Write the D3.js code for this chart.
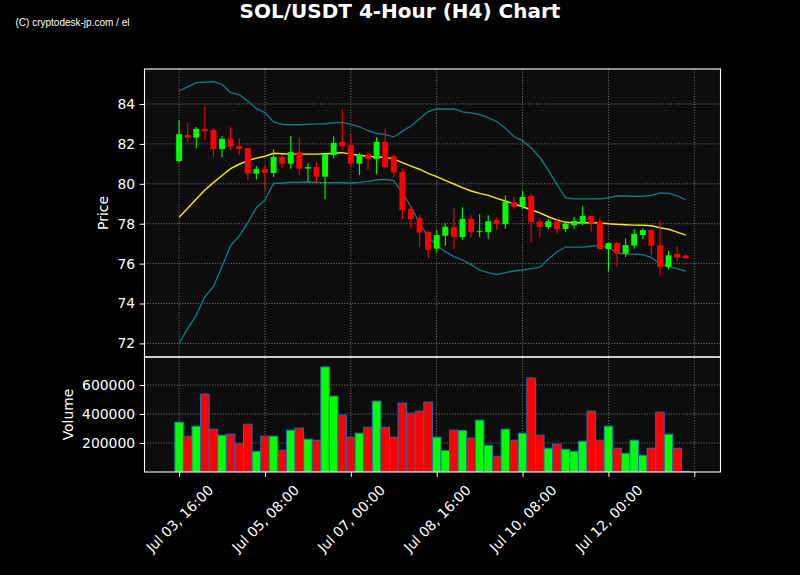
<!DOCTYPE html>
<html><head><meta charset="utf-8">
<script src="https://cdn.jsdelivr.net/npm/d3@7"></script>
<style>body{margin:0;background:#000;} svg{display:block}</style>
</head><body>
<svg id="c" width="800" height="575"></svg>
<script>
// ---------------- DATA ----------------
const dates = [
"2025-07-03T16:00","2025-07-03T20:00",
"2025-07-04T00:00","2025-07-04T04:00","2025-07-04T08:00","2025-07-04T12:00","2025-07-04T16:00","2025-07-04T20:00",
"2025-07-05T00:00","2025-07-05T04:00","2025-07-05T08:00","2025-07-05T12:00","2025-07-05T16:00","2025-07-05T20:00",
"2025-07-06T00:00","2025-07-06T04:00","2025-07-06T08:00","2025-07-06T12:00","2025-07-06T16:00","2025-07-06T20:00",
"2025-07-07T00:00","2025-07-07T04:00","2025-07-07T08:00","2025-07-07T12:00","2025-07-07T16:00","2025-07-07T20:00",
"2025-07-08T00:00","2025-07-08T04:00","2025-07-08T08:00","2025-07-08T12:00","2025-07-08T16:00","2025-07-08T20:00",
"2025-07-09T00:00","2025-07-09T04:00","2025-07-09T08:00","2025-07-09T12:00","2025-07-09T16:00","2025-07-09T20:00",
"2025-07-10T00:00","2025-07-10T04:00","2025-07-10T08:00","2025-07-10T12:00","2025-07-10T16:00","2025-07-10T20:00",
"2025-07-11T00:00","2025-07-11T04:00","2025-07-11T08:00","2025-07-11T12:00","2025-07-11T16:00","2025-07-11T20:00",
"2025-07-12T00:00","2025-07-12T04:00","2025-07-12T08:00","2025-07-12T12:00","2025-07-12T16:00","2025-07-12T20:00",
"2025-07-13T00:00","2025-07-13T04:00","2025-07-13T08:00","2025-07-13T12:00"
];
const open = [81.14,82.45,82.31,82.75,82.70,81.74,82.25,81.89,81.79,80.51,
80.74,80.54,81.34,81.01,81.59,80.76,80.84,80.36,81.44,82.10,
81.94,81.01,81.48,81.24,82.10,81.38,80.59,78.74,78.29,77.58,
76.75,77.40,77.83,77.33,78.24,77.58,77.58,78.19,77.98,79.07,
78.88,79.39,78.12,77.83,78.12,77.73,77.92,78.02,78.39,78.12,
76.73,77.03,76.50,76.90,77.43,77.68,76.92,75.83,76.49,76.41];
const high = [83.17,83.03,82.85,83.93,82.78,82.40,82.83,82.28,81.80,80.89,
80.93,81.73,81.44,82.41,82.33,81.03,81.08,81.50,82.38,83.73,
82.50,81.56,81.58,82.33,82.78,81.48,80.76,78.90,78.45,77.65,
77.68,78.02,78.77,78.82,78.42,78.49,78.42,78.32,79.42,79.36,
79.66,79.52,78.27,78.24,78.19,78.12,78.34,78.87,78.40,78.32,
77.04,77.08,77.27,77.72,77.77,77.72,78.15,76.65,76.85,76.44];
const low = [81.06,82.11,81.78,82.20,81.36,81.33,81.69,81.44,80.16,80.22,
79.66,80.36,80.78,80.76,80.44,80.11,80.02,79.22,81.28,81.69,
80.83,80.44,80.73,80.49,80.78,80.32,78.22,77.77,76.85,76.27,
76.56,76.90,76.72,77.20,77.32,77.32,77.25,77.70,77.75,78.72,
78.74,77.07,77.32,77.72,77.48,77.57,77.72,77.92,77.60,76.72,
75.60,75.84,76.33,76.75,77.22,76.45,75.40,75.71,76.11,76.24];
const close = [82.49,82.31,82.75,82.65,81.74,82.25,81.86,81.74,80.51,80.74,
80.56,81.34,81.01,81.59,80.76,80.84,80.36,81.49,82.05,81.89,
81.01,81.44,81.24,82.10,80.83,80.56,78.70,78.24,77.55,76.69,
77.43,77.85,77.33,78.24,77.58,77.63,78.12,78.00,79.10,78.84,
79.34,78.08,77.83,78.12,77.73,78.00,78.14,78.39,78.02,76.73,
77.03,76.50,76.93,77.49,77.68,76.90,75.83,76.42,76.30,76.26];
const volume = [343700,246800,316000,537500,295300,253700,260700,193800,329900,143000,
246800,246800,150000,288400,302200,226100,219100,724300,523600,392200,
239900,267600,309100,489000,309100,239900,475200,406000,419800,482100,
239900,147600,288400,286000,233000,357600,184500,108400,295300,219100,
267600,648200,253700,163800,191500,156900,143000,212200,419800,219100,
316000,163800,129200,219100,115300,163800,412900,260700,163800,5000];
const bbMiddle = [78.32,78.78,79.24,79.69,80.06,80.42,80.76,80.98,81.16,81.29,
81.38,81.53,81.51,81.49,81.49,81.49,81.49,81.51,81.53,81.56,
81.49,81.43,81.38,81.34,81.33,81.24,81.06,80.89,80.73,80.52,
80.36,80.17,79.99,79.81,79.64,79.52,79.42,79.27,79.14,78.99,
78.85,78.70,78.54,78.35,78.19,78.07,78.05,78.05,78.05,78.04,
78.00,77.97,77.95,77.93,77.92,77.90,77.80,77.72,77.58,77.43];
const bbUpper = [84.65,84.86,85.07,85.10,85.12,84.99,84.57,84.47,84.15,83.77,
83.57,83.10,82.98,82.96,82.96,82.98,83.00,83.01,83.05,83.08,
82.98,82.86,82.66,82.53,82.46,82.35,82.63,82.90,83.26,83.62,
83.75,83.75,83.75,83.60,83.55,83.47,83.31,83.11,82.78,82.36,
82.15,81.81,81.33,80.69,79.97,79.30,79.24,79.24,79.24,79.25,
79.30,79.39,79.39,79.37,79.37,79.42,79.54,79.52,79.39,79.20];
const bbLower = [72.00,72.74,73.42,74.34,74.84,75.85,76.90,77.38,78.05,78.80,
79.19,80.02,80.04,80.07,80.07,80.09,80.07,80.06,80.06,80.06,
80.04,80.07,80.12,80.19,80.22,80.16,79.56,78.85,78.02,77.35,
76.92,76.60,76.35,76.18,75.95,75.68,75.55,75.45,75.55,75.63,
75.68,75.75,75.81,76.23,76.58,76.83,76.83,76.83,76.87,76.90,
76.82,76.53,76.48,76.48,76.45,76.30,75.98,75.86,75.75,75.63];
const priceTicks = [72,74,76,78,80,82,84];
const volumeTicks = [200000,400000,600000];
const timeTicks = ["2025-07-03T16:00","2025-07-05T08:00","2025-07-07T00:00","2025-07-08T16:00","2025-07-10T08:00","2025-07-12T00:00","2025-07-13T16:00"];
const timeTickLabels = ["Jul 03, 16:00","Jul 05, 08:00","Jul 07, 00:00","Jul 08, 16:00","Jul 10, 08:00","Jul 12, 00:00",""];
const titleText = "SOL/USDT 4-Hour (H4) Chart";
const watermark = "(C) cryptodesk-jp.com / el";

// ---------------- LAYOUT ----------------
const L = 144.5, R = 720.5, pT = 69, pB = 357, vT = 357, vB = 472;
const FONT = "DejaVu Sans";
const FS = 13.9;
const UP = "#00ff00", DOWN = "#ff0000";

const parse = d3.utcParse("%Y-%m-%dT%H:%M");
const t = dates.map(parse);
const H4 = 4 * 3600e3;
const x = d3.scaleUtc()
  .domain([new Date(+t[0] - 4.03 * H4), new Date(+t[0] + 63.05 * H4)])
  .range([L, R]);
const step = x(t[1]) - x(t[0]);
const y = d3.scaleLinear().domain([71.32, 85.754]).range([pB, pT]);
const yv = d3.scaleLinear().domain([0, 793000]).range([vB, vT]);

const svg = d3.select("#c");
svg.append("rect").attr("width", 800).attr("height", 575).attr("fill", "#000");

const defs = svg.append("defs");
defs.append("clipPath").attr("id", "cp").append("rect")
  .attr("x", L).attr("y", pT).attr("width", R - L).attr("height", pB - pT);
defs.append("clipPath").attr("id", "cv").append("rect")
  .attr("x", L).attr("y", vT).attr("width", R - L).attr("height", vB - vT);

// panel backgrounds
svg.append("rect").attr("x", L).attr("y", pT).attr("width", R - L).attr("height", pB - pT).attr("fill", "#0d0d0d");
svg.append("rect").attr("x", L).attr("y", vT).attr("width", R - L).attr("height", vB - vT).attr("fill", "#0d0d0d");

// grids
const grid = svg.append("g").attr("stroke", "#a0a0a0").attr("stroke-opacity", 0.75)
  .attr("stroke-width", 1).attr("stroke-dasharray", "1,1.7");
const tt = timeTicks.map(parse);
grid.selectAll(".gvx").data(tt).join("line")
  .attr("x1", d => x(d)).attr("x2", d => x(d)).attr("y1", pT).attr("y2", vB);
grid.selectAll(".gpy").data(priceTicks).join("line")
  .attr("x1", L).attr("x2", R).attr("y1", d => y(d)).attr("y2", d => y(d));
grid.selectAll(".gvy").data(volumeTicks).join("line")
  .attr("x1", L).attr("x2", R).attr("y1", d => yv(d)).attr("y2", d => yv(d));

// Bollinger bands
const pg = svg.append("g").attr("clip-path", "url(#cp)");
const line = d3.line().x((d, i) => x(t[i])).y(d => y(d));
pg.append("path").datum(bbUpper).attr("d", line).attr("fill", "none")
  .attr("stroke", "#0e8080").attr("stroke-width", 1.3);
pg.append("path").datum(bbLower).attr("d", line).attr("fill", "none")
  .attr("stroke", "#0e8080").attr("stroke-width", 1.3);
pg.append("path").datum(bbMiddle).attr("d", line).attr("fill", "none")
  .attr("stroke", "#f5f000").attr("stroke-width", 1.4);

// candles
const idx = d3.range(dates.length);
const col = i => close[i] >= open[i] ? UP : DOWN;
const bw = step * 0.69;
pg.selectAll(".wick").data(idx).join("line")
  .attr("x1", i => x(t[i])).attr("x2", i => x(t[i]))
  .attr("y1", i => y(high[i])).attr("y2", i => y(low[i]))
  .attr("stroke", col).attr("stroke-width", 1.1);
pg.selectAll(".body").data(idx).join("rect")
  .attr("x", i => x(t[i]) - bw / 2).attr("width", bw)
  .attr("y", i => y(Math.max(open[i], close[i])))
  .attr("height", i => Math.max(1, Math.abs(y(open[i]) - y(close[i]))))
  .attr("fill", col);

// volume bars
const vg = svg.append("g").attr("clip-path", "url(#cv)");
vg.selectAll(".vb").data(idx).join("rect")
  .attr("x", i => x(t[i]) - step / 2).attr("width", step)
  .attr("y", i => yv(volume[i])).attr("height", i => yv(0) - yv(volume[i]))
  .attr("fill", col).attr("stroke", "#1f6fb4").attr("stroke-width", 1);

// axes
function styleAxis(g) {
  g.select(".domain").remove();
  g.selectAll(".tick line").attr("stroke", "#fff").attr("stroke-width", 1);
  g.selectAll(".tick text").attr("fill", "#fff").style("font-family", FONT).style("font-size", FS + "px");
}
svg.append("g").attr("transform", `translate(${L},0)`)
  .call(d3.axisLeft(y).tickValues(priceTicks).tickFormat(d3.format("d")).tickSize(4.9).tickPadding(4.5))
  .call(styleAxis);
svg.append("g").attr("transform", `translate(${L},0)`)
  .call(d3.axisLeft(yv).tickValues(volumeTicks).tickFormat(d3.format("d")).tickSize(4.9).tickPadding(4.5))
  .call(styleAxis);
const xa = svg.append("g").attr("transform", `translate(0,${vB})`)
  .call(d3.axisBottom(x).tickValues(tt).tickFormat((d, i) => timeTickLabels[i]).tickSize(4.9).tickPadding(4.9))
  .call(styleAxis);
xa.selectAll(".tick text").each(function () {
  const el = d3.select(this);
  const w = this.getComputedTextLength();
  const h = FS * 1.17;
  const half = (w + h) * Math.SQRT1_2 / 2;
  el.attr("y", null).attr("dy", null).attr("text-anchor", "middle")
    .attr("dominant-baseline", "central")
    .attr("transform", `translate(0,${9.8 + half}) rotate(-45)`);
});

// spines
const sp = svg.append("g").attr("fill", "none").attr("stroke", "#fff").attr("stroke-width", 1.1);
sp.append("rect").attr("x", L).attr("y", pT).attr("width", R - L).attr("height", pB - pT);
sp.append("rect").attr("x", L).attr("y", vT).attr("width", R - L).attr("height", vB - vT);

// labels
svg.append("text").attr("transform", `translate(108,${(pT + pB) / 2}) rotate(-90)`)
  .attr("text-anchor", "middle").attr("fill", "#fff")
  .style("font-family", FONT).style("font-size", FS + "px").text("Price");
svg.append("text").attr("transform", `translate(73,${(vT + vB) / 2}) rotate(-90)`)
  .attr("text-anchor", "middle").attr("fill", "#fff")
  .style("font-family", FONT).style("font-size", FS + "px").text("Volume");
svg.append("text").attr("x", 400).attr("y", 18).attr("text-anchor", "middle")
  .attr("fill", "#fff").style("font-family", FONT).style("font-size", "20px").style("font-weight", "bold")
  .text(titleText);
svg.append("text").attr("x", 15.5).attr("y", 25.5).attr("fill", "#fff")
  .style("font-family", "Liberation Sans").style("font-size", "10px").text(watermark);
</script>
</body></html>
